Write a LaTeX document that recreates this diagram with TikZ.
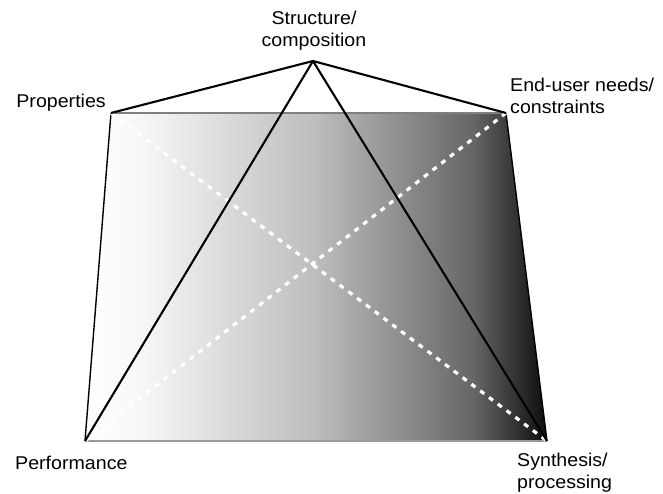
\documentclass[tikz,border=0pt]{standalone}
\usepackage{fontspec}
\setmainfont{Liberation Sans}
\pgfdeclarehorizontalshading{trapshade}{100bp}{
  color(0bp)=(white);
  color(25bp)=(white);
  color(31bp)=(white!97!black);
  color(50bp)=(white!74!black);
  color(67bp)=(white!40!black);
  color(75bp)=(white!5!black);
  color(100bp)=(white!5!black)}
\tikzset{
  lbl/.style={inner sep=0pt, font=\fontsize{18.5}{22}\selectfont, align=left, xscale=1.06},
  solidline/.style={black, line width=2.1pt},
  dashline/.style={white, line width=3.2pt, dash pattern=on 5pt off 6pt},
  vtx/.style={inner sep=0pt, minimum size=0pt}
}
\begin{document}
\begin{tikzpicture}[x=1pt,y=-1pt]
\useasboundingbox (0,0) rectangle (663,493);
\coordinate (S) at (313,61);
\coordinate (P) at (111,113);
\coordinate (E) at (506,113);
\coordinate (F) at (85,441);
\coordinate (Y) at (547,441);
% shaded trapezoid
\shade[shading=trapshade] (P) -- (E) -- (Y) -- (F) -- cycle;
\draw[gray, line width=1.6pt] (P) -- (E);
\draw[gray!80, line width=1.6pt] (F) -- (Y);
\draw[black, line width=1.4pt] (P) -- (F);
\draw[black, line width=1.4pt] (E) -- (Y);
% diagonals
\draw[dashline] (P) -- (Y);
\draw[dashline] (E) -- (F);
% apex lines
\draw[solidline, line join=round] (P) -- (S) -- (E);
\draw[solidline, line join=round] (F) -- (S) -- (Y);
% labels
\node[lbl, align=center, anchor=south] (ls) at (314,51) {Structure/\\composition};
\node[lbl, anchor=east] (lp) at (106,103) {Properties};
\node[lbl, anchor=west] (le) at (510,96) {End-user needs/\\constraints};
\node[lbl, anchor=west] (lf) at (15,463) {Performance};
\node[lbl, anchor=north west] (ly) at (517,453) {Synthesis/\\processing};
\end{tikzpicture}
\end{document}
